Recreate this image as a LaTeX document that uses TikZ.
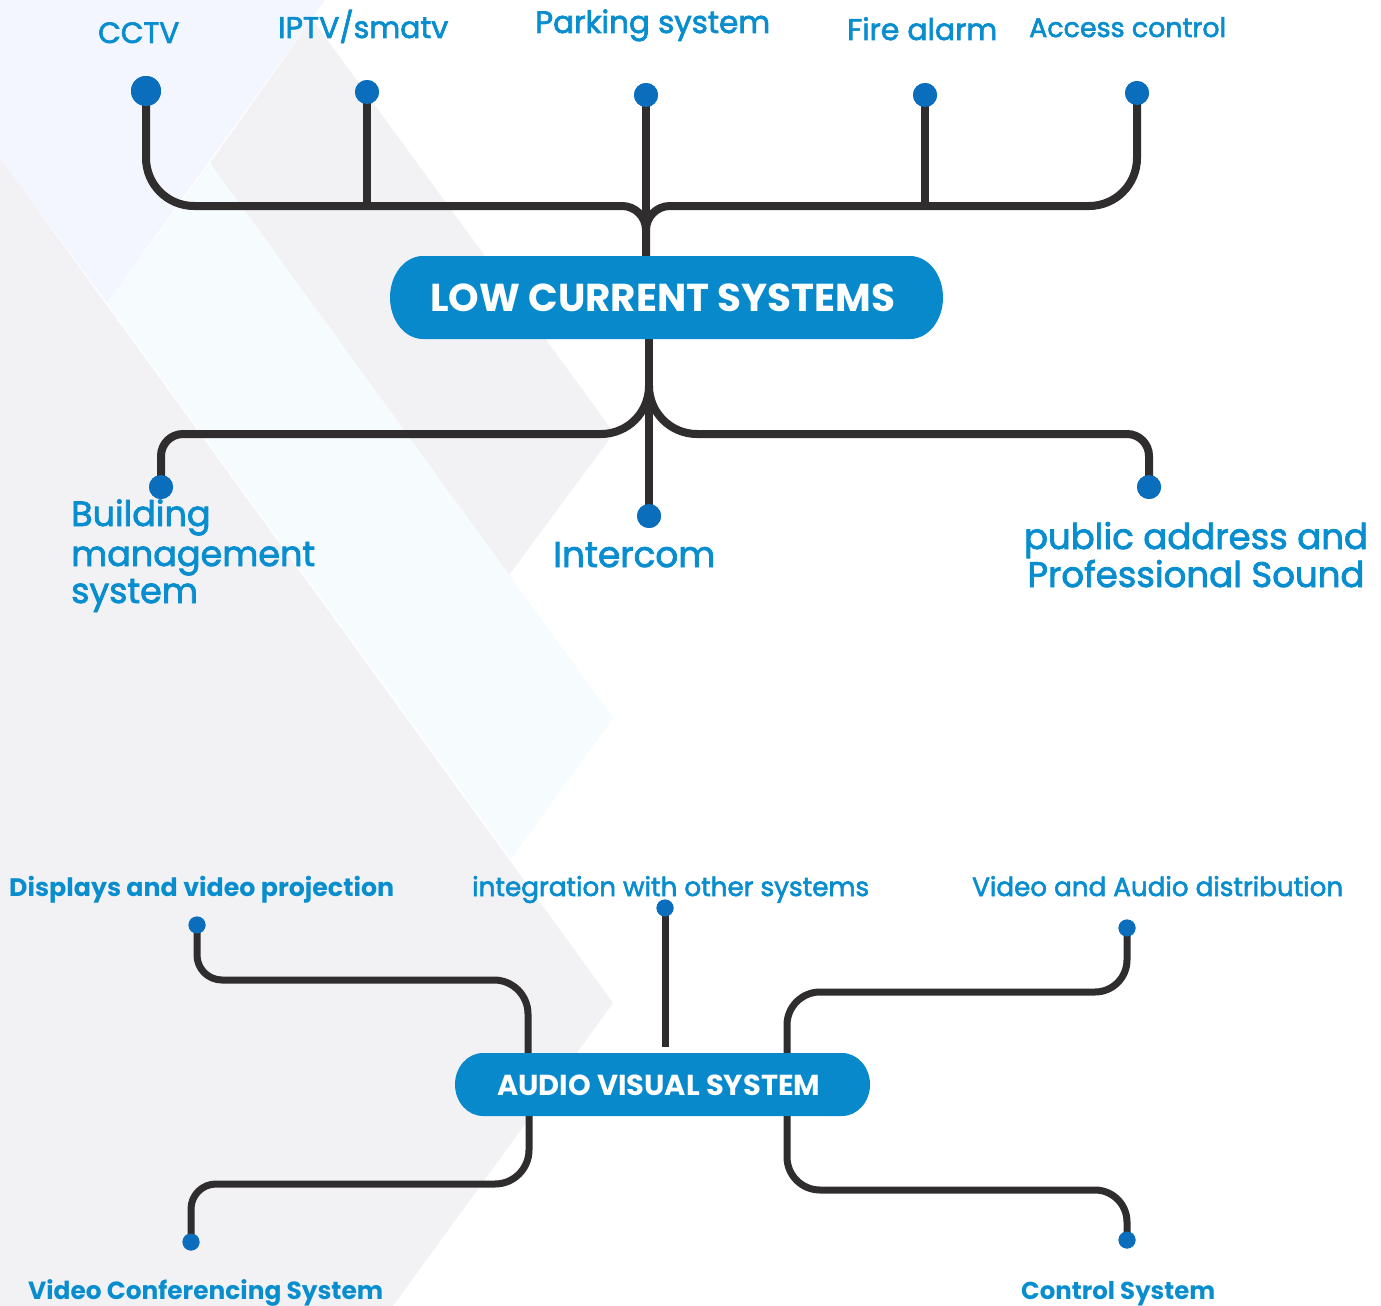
\documentclass[tikz,border=0pt]{standalone}
\usepackage{fontspec}
\setmainfont{Poppins}
\newfontfamily\medfont{Poppins}[FakeBold=2.2]
\definecolor{lblue}{HTML}{F3F6FE}
\definecolor{bgray}{HTML}{F2F2F4}
\definecolor{lband}{HTML}{F6FBFE}
\definecolor{boxblue}{HTML}{0789CC}
\definecolor{txtblue}{HTML}{088DCF}
\definecolor{dotblue}{HTML}{0A6EBD}
\definecolor{wirecol}{HTML}{2F2D2E}
\newlength\fitw
\newcommand\fitas[4]{\settowidth\fitw{#1\fontsize{10pt}{12pt}\selectfont #3}\pgfmathsetmacro\fsz{10*#2/\fitw}#1\fontsize{\fsz pt}{\fsz pt}\selectfont #4}
\newcommand\fit[3]{\fitas{#1}{#2}{#3}{#3}}
\begin{document}
\begin{tikzpicture}[x=1pt,y=-1pt,
  lab/.style={text=txtblue,inner sep=0pt,anchor=base west},
  boxtxt/.style={text=white,inner sep=0pt,anchor=base west},
  dot/.style={circle,fill=dotblue,inner sep=0pt,minimum size=#1},
  dot/.default=24,
  wire/.style={draw=wirecol,line width=8pt},
  wiretwo/.style={draw=wirecol,line width=7pt}]
\useasboundingbox (0,0) rectangle (1381,1306);
\fill[white] (0,0) rectangle (1381,1306);
% background
\fill[lblue] (0,0) -- (325,0) -- (107,303) -- (0,158) -- cycle;
\fill[bgray] (312,19) -- (614,433) -- (509,575) -- (210,163) -- cycle;
\fill[lband] (210,163) -- (613,718) -- (511,859) -- (107,303) -- cycle;
\fill[bgray] (0,158) -- (613,1003) -- (393,1306) -- (0,1306) -- cycle;
% dots (positions)
\node[dot=30] (dcctv) at (146,91) {};
\node[dot] (diptv) at (367,92) {};
\node[dot] (dpark) at (646,95) {};
\node[dot] (dfire) at (925,95) {};
\node[dot] (dacc) at (1137,93) {};
\node[dot] (dbms) at (161,487) {};
\node[dot] (dicom) at (649,516) {};
\node[dot] (dpa) at (1149,487) {};
\node[dot=17] (ddisp) at (197,925) {};
\node[dot=17] (dint) at (665,908) {};
\node[dot=17] (dvad) at (1127,928) {};
\node[dot=17] (dvcs) at (191,1242) {};
\node[dot=17] (dctrl) at (1127,1240) {};
% top wires
\draw[wire] (dcctv.center) -- (146,158) arc[start angle=180,end angle=90,radius=48] -- (622,206) arc[start angle=270,end angle=360,radius=24] -- (646,260);
\draw[wire] (dpark.center) -- (646,260);
\draw[wire] (646,230) arc[start angle=180,end angle=270,radius=24] -- (1089,206) arc[start angle=90,end angle=0,radius=48] -- (dacc.center);
\draw[wire] (diptv.center) -- (367,206);
\draw[wire] (dfire.center) -- (925,206);
\draw[wire] (649,335) -- (dicom.center);
\draw[wire] (649,386) arc[start angle=0,end angle=90,radius=48] -- (183,434) arc[start angle=270,end angle=180,radius=22] -- (dbms.center);
\draw[wire] (649,386) arc[start angle=180,end angle=90,radius=48] -- (1127,434) arc[start angle=270,end angle=360,radius=22] -- (dpa.center);
% bottom wires
\draw[wiretwo] (ddisp.center) -- (197,955) arc[start angle=180,end angle=90,radius=25] -- (494,980) arc[start angle=270,end angle=360,radius=34] -- (528,1058);
\draw[wiretwo] (529,1110) -- (529,1150) arc[start angle=0,end angle=90,radius=34] -- (216,1184) arc[start angle=270,end angle=180,radius=25] -- (dvcs.center);
\draw[wiretwo] (dvad.center) -- (1127,960) arc[start angle=0,end angle=90,radius=32] -- (820,992) arc[start angle=270,end angle=180,radius=33] -- (787,1058);
\draw[wiretwo] (787,1110) -- (787,1157) arc[start angle=180,end angle=90,radius=33] -- (1095,1190) arc[start angle=270,end angle=360,radius=32] -- (dctrl.center);
\draw[wiretwo] (dint.center) -- (665,1047);
% redraw dots above wires
\foreach \d/\s in {dcctv/30,diptv/24,dpark/24,dfire/24,dacc/24,dbms/24,dicom/24,dpa/24,ddisp/17,dint/17,dvad/17,dvcs/17,dctrl/17}
  \fill[dotblue] (\d.center) circle[radius=\s/2];
% boxes
\fill[boxblue] (423,256) -- (910,256) arc[start angle=270,end angle=450,x radius=33,y radius=41.5] -- (423,339) arc[start angle=90,end angle=270,x radius=33,y radius=41.5] -- cycle;
\fill[boxblue] (483,1053) -- (842,1053) arc[start angle=270,end angle=450,x radius=28,y radius=31.5] -- (483,1116) arc[start angle=90,end angle=270,x radius=28,y radius=31.5] -- cycle;
\node[boxtxt] (lcs) at (430,311) {\fit{\bfseries}{465}{LOW CURRENT SYSTEMS}};
\node[boxtxt] (avs) at (497,1095) {\fit{\bfseries}{323}{AUDIO VISUAL SYSTEM}};
% labels
\node[lab] (cctv) at (98,43) {\fit{\medfont}{81}{CCTV}};
\node[lab] (iptv) at (278,38) {\fit{\medfont}{170}{IPTV/smatv}};
\node[lab] (park) at (535,33) {\fit{\medfont}{235}{Parking system}};
\node[lab] (fire) at (847,40) {\fit{\medfont}{150}{Fire alarm}};
\node[lab] (acc) at (1029,37) {\fit{\medfont}{197}{Access control}};
\node[lab] (bmsa) at (71,526) {\fitas{\medfont}{244}{management}{Building}};
\node[lab] (bmsb) at (71,566) {\fit{\medfont}{244}{management}};
\node[lab] (bmsc) at (71,603) {\fitas{\medfont}{244}{management}{system}};
\node[lab] (icom) at (553,567) {\fit{\medfont}{162}{Intercom}};
\node[lab,anchor=base] (paa) at (1196,549) {\fitas{\medfont}{337}{Professional Sound}{public address and}};
\node[lab,anchor=base] (pab) at (1196,587) {\fit{\medfont}{337}{Professional Sound}};
\node[lab] (disp) at (9,896) {\fit{\bfseries}{385}{Displays and video projection}};
\node[lab] (integ) at (472,896) {\fit{\medfont}{397}{integration with other systems}};
\node[lab] (vad) at (972,896) {\fit{\medfont}{371}{Video and Audio distribution}};
\node[lab] (vcs) at (28,1299) {\fit{\bfseries}{355}{Video Conferencing System}};
\node[lab] (ctrl) at (1021,1299) {\fit{\bfseries}{194}{Control System}};
\end{tikzpicture}
\end{document}
